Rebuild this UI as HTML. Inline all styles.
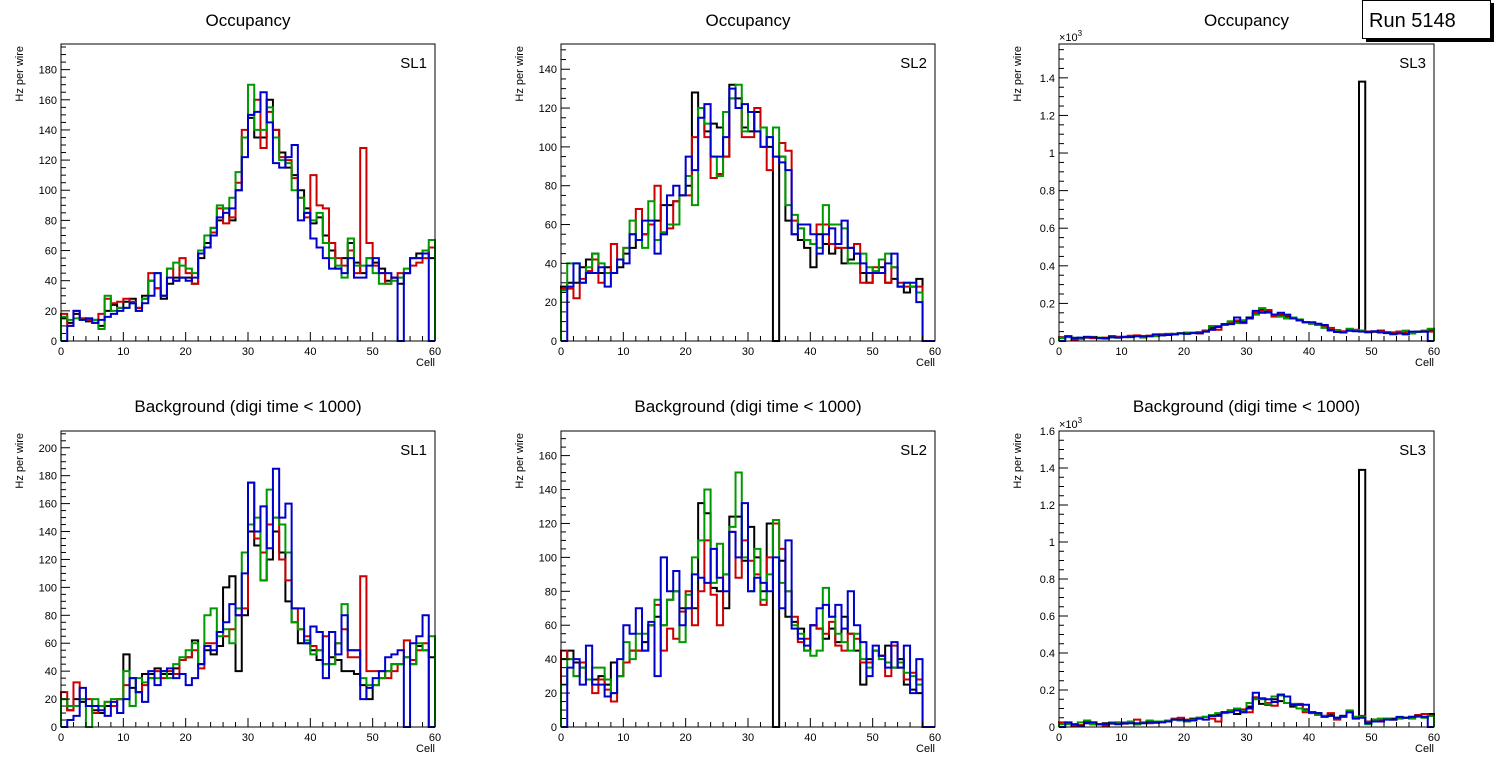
<!DOCTYPE html>
<html><head><meta charset="utf-8">
<style>
body{margin:0;background:#fff;width:1496px;height:772px;overflow:hidden;font-family:"Liberation Sans",sans-serif;}
svg text{font-family:"Liberation Sans",sans-serif;}
</style></head>
<body>
<svg id="c" width="1496" height="772" xmlns="http://www.w3.org/2000/svg"></svg>
<script>
// ---- data ----
const binCount = 60;
const colors = ["#000000","#cc0000","#009900","#0000cc"];
const panelTitles = ["Occupancy","Occupancy","Occupancy","Background (digi time < 1000)","Background (digi time < 1000)","Background (digi time < 1000)"];
const panelLabels = ["SL1","SL2","SL3","SL1","SL2","SL3"];
const yMaxes = [197,153,1580,212,174.5,1600];
const yTickSteps = [20,20,200,20,20,200];

const p1Black=[15,12,18,15,13,14,10,20,24,22,26,28,22,30,40,35,28,38,42,42,42,38,55,65,75,80,88,80,100,135,148,135,135,160,140,125,115,110,100,88,78,82,70,60,48,55,65,52,45,55,52,48,40,42,38,45,55,58,60,55];
const p1Red=[18,10,20,15,14,12,18,28,25,26,28,26,22,28,45,35,30,48,40,55,45,38,58,62,72,88,78,82,105,140,150,160,128,152,140,122,120,108,95,82,110,90,88,65,55,50,60,45,128,65,50,45,38,42,45,45,50,52,55,62];
const p1Green=[16,14,15,14,15,14,8,30,20,22,22,25,20,28,40,45,30,48,52,50,48,45,60,70,75,90,88,95,112,135,170,140,140,155,135,120,118,100,95,85,80,85,65,55,50,42,68,50,50,55,45,38,38,40,42,48,55,55,60,67];
const p1Blue=[0,10,20,14,15,12,14,16,18,20,22,25,20,25,30,45,30,42,40,42,40,42,58,62,70,82,85,88,100,122,150,152,165,145,118,115,122,130,80,85,68,62,55,48,48,45,55,42,42,50,55,45,45,42,0,45,55,55,58,0];

const p2Black=[28,30,30,38,42,45,35,38,35,38,45,48,52,55,60,62,70,70,72,75,80,128,120,108,112,110,95,132,125,110,108,118,110,100,0,95,62,55,52,48,38,55,50,45,48,40,42,45,35,30,35,38,30,32,28,25,28,32,0,0];
const p2Red=[27,27,22,32,36,42,30,35,50,42,48,55,68,55,60,80,55,58,72,75,75,105,120,105,84,86,95,125,120,105,105,120,100,88,95,102,98,62,58,52,50,60,60,50,48,48,48,50,30,30,38,42,30,38,30,28,28,28,0,0];
const p2Green=[26,40,40,30,38,45,40,35,35,42,48,62,52,48,72,52,56,60,60,75,85,70,120,112,95,85,118,125,132,108,118,108,110,105,110,95,70,65,58,52,50,48,70,60,60,58,40,40,45,38,36,42,45,38,28,30,28,25,0,0];
const p2Blue=[0,28,40,30,35,35,38,28,35,42,40,55,52,62,62,45,55,75,80,75,95,88,115,122,95,95,105,130,120,122,118,108,100,105,95,92,88,55,60,60,55,45,55,58,50,62,48,45,40,35,35,35,40,45,28,30,30,20,0,0];

const p3Black=[20,25,15,15,18,18,15,15,25,22,22,25,28,25,28,30,35,38,35,40,45,45,45,55,70,75,90,100,100,110,125,145,170,155,140,140,130,120,110,100,95,90,80,60,55,50,55,55,1380,50,50,55,45,45,50,45,45,50,50,60];
const p3Red=[18,22,5,12,20,15,15,18,20,22,20,28,30,22,28,32,32,35,38,42,40,45,40,55,60,60,85,100,110,95,120,150,160,165,130,145,125,125,110,100,92,85,75,70,58,52,55,60,55,50,48,52,48,42,50,48,45,50,55,50];
const p3Green=[15,20,18,15,22,22,18,12,20,18,22,20,25,18,25,25,30,35,38,42,45,45,48,50,80,80,90,105,95,110,120,140,175,150,140,130,120,125,115,100,92,85,70,55,52,48,65,58,55,45,50,48,45,35,40,55,40,48,52,65];
const p3Blue=[0,25,15,18,22,20,15,15,20,18,22,22,25,25,25,35,30,32,35,40,38,42,42,50,60,75,90,90,125,100,120,160,150,155,140,150,140,120,110,100,100,92,85,58,48,45,55,52,50,48,52,45,42,38,40,35,50,50,50,0];

const p4Black=[20,12,20,18,15,12,10,15,15,20,52,28,25,38,38,42,38,38,42,48,50,62,45,55,52,58,100,108,40,80,140,130,105,120,140,125,90,75,60,60,55,48,45,50,48,40,40,38,30,20,30,35,40,45,45,50,45,58,55,50];
const p4Red=[25,12,32,20,20,10,15,18,15,20,30,35,25,30,35,40,35,40,38,48,50,55,42,60,60,68,65,70,80,85,175,135,125,145,150,120,105,85,70,65,58,55,65,45,60,70,50,50,108,40,40,40,35,40,45,62,48,55,60,0];
const p4Green=[20,15,15,20,0,20,15,18,20,20,40,15,35,32,35,35,40,35,45,50,55,60,45,80,85,65,70,60,85,125,145,150,105,170,150,145,125,75,70,62,52,55,45,45,60,88,55,55,35,30,30,35,40,45,45,50,45,60,55,65];
const p4Blue=[0,5,8,28,15,15,12,8,18,10,20,35,25,18,40,30,40,42,35,38,30,35,45,58,55,68,75,88,80,110,175,140,158,128,185,150,160,85,85,60,72,68,35,68,52,80,55,55,20,28,35,40,50,52,55,0,60,65,80,0];

const p5Black=[40,45,38,35,28,28,30,25,38,30,38,45,45,50,60,65,60,75,80,70,70,70,132,126,82,80,70,124,124,98,118,100,80,120,0,98,65,62,58,45,60,58,52,58,50,65,55,45,25,40,45,42,48,35,40,25,22,20,0,0];
const p5Red=[45,40,30,38,28,20,28,22,15,30,38,45,45,45,60,72,45,58,52,68,80,60,80,110,78,60,90,115,88,110,98,90,72,100,120,105,80,65,50,52,60,58,55,62,48,45,55,52,38,38,45,42,30,48,35,28,32,28,0,0];
const p5Green=[25,40,30,35,28,35,35,28,20,30,50,40,55,55,60,75,60,75,80,50,78,100,110,140,85,108,90,118,150,100,80,105,75,90,122,85,80,60,55,45,42,45,82,65,55,50,45,55,40,35,45,40,38,35,38,32,30,25,0,0];
const p5Blue=[0,35,40,25,48,25,25,18,20,40,60,55,70,45,62,30,100,80,92,60,70,90,88,85,105,88,80,115,100,132,80,88,85,80,100,70,110,58,52,48,60,70,72,65,72,58,80,60,50,30,48,42,35,50,35,48,20,40,0,0];

const p6Black=[20,20,10,10,20,15,15,20,18,20,18,22,15,22,25,25,28,35,40,35,35,45,50,55,60,70,80,90,70,80,110,160,125,120,150,140,130,110,120,95,80,75,60,70,50,55,80,55,1390,25,40,40,45,45,50,50,55,60,55,70];
const p6Red=[25,20,5,10,25,25,15,5,20,25,20,22,40,25,20,22,30,30,45,50,40,35,45,55,45,30,80,90,90,95,80,160,155,130,115,175,130,120,125,80,75,65,60,75,40,55,85,50,60,30,40,40,45,40,50,50,55,65,70,60];
const p6Green=[15,15,15,25,35,15,15,15,25,20,25,30,15,25,35,30,30,35,40,35,30,40,50,55,65,75,75,90,100,85,130,150,150,125,165,170,130,125,100,90,80,65,60,60,50,60,90,55,55,15,40,45,45,40,45,50,45,55,50,60];
const p6Blue=[0,25,15,5,25,25,15,15,20,15,20,20,20,20,25,25,25,30,40,40,35,35,45,40,60,60,80,80,90,80,100,185,155,150,135,175,165,120,120,120,80,75,55,60,50,60,80,45,50,20,30,30,40,40,55,50,55,60,55,0];

const seriesByPanel=[[p1Black,p1Red,p1Green,p1Blue],[p2Black,p2Red,p2Green,p2Blue],[p3Black,p3Red,p3Green,p3Blue],[p4Black,p4Red,p4Green,p4Blue],[p5Black,p5Red,p5Green,p5Blue],[p6Black,p6Red,p6Green,p6Blue]];
const seriesNames=["black","red","green","blue"];
const xTickLabels=["0","10","20","30","40","50","60"];

// ---- drawing ----
const NS="http://www.w3.org/2000/svg";
const svg=document.getElementById('c');
function mk(tag,attrs,parent){const e=document.createElementNS(NS,tag);for(const k in attrs)e.setAttribute(k,attrs[k]);(parent||svg).appendChild(e);return e;}
const frames=[[61,435,44,341],[561,935,44,341],[1059,1434,44,341],[61,435,431,727],[561,935,431,727],[1059,1434,431,727]];

function fmt(v,isK){if(isK){const s=(v/1000);return (Math.round(s*10)/10).toString();}return v.toString();}

for(let p=0;p<6;p++){
  const [x0,x1,y0,y1]=frames[p];
  const ymax=yMaxes[p];
  const sx=v=>x0+(x1-x0)*v/binCount;
  const sy=v=>y1-(y1-y0)*Math.min(v,ymax)/ymax;
  const isK=ymax>1000;
  const g=mk('g',{});
  
  
  const t=mk('text',{x:(x0+x1)/2,y:y0<100?26:412,'text-anchor':'middle','font-size':'17'},g);
  t.textContent=panelTitles[p];
  
  
  seriesByPanel[p].forEach((vals,si)=>{
    let d='M'+sx(0)+','+y1;
    for(let i=0;i<vals.length;i++){d+=' V'+sy(vals[i])+' H'+sx(i+1);}
    d+=' V'+y1;
    const path=mk('path',{d:d,fill:'none',stroke:colors[si],'stroke-width':'2'},g);
    
    
  });
  const fr=mk('rect',{x:x0,y:y0,width:x1-x0,height:y1-y0,fill:'none',stroke:'#000','stroke-width':'1'},g);
  
  
  for(let v=0;v<=60;v+=2){
    const major=v%10===0;
    mk('line',{x1:sx(v),x2:sx(v),y1:y1,y2:y1-(major?9:5),stroke:'#000','stroke-width':'1'},g);
  }
  xTickLabels.forEach(lab=>{
    const tx=mk('text',{x:sx(+lab),y:y1+14,'text-anchor':'middle','font-size':'11'},g);
    tx.textContent=lab;
    
    
  });
  const cl=mk('text',{x:x1,y:y1+25,'text-anchor':'end','font-size':'11'},g);
  cl.textContent='Cell';
  
  
  const step=yTickSteps[p];
  for(let v=0;v<=ymax;v+=step/4){
    const major=Math.abs(v/step-Math.round(v/step))<1e-6;
    mk('line',{x1:x0,x2:x0+(major?9:5),y1:sy(v),y2:sy(v),stroke:'#000','stroke-width':'1'},g);
    if(major){
      const ty=mk('text',{x:x0-4,y:sy(v)+4,'text-anchor':'end','font-size':'11'},g);
      ty.textContent=fmt(v,isK);
      
      
    }
  }
  const yt=mk('text',{x:0,y:0,'text-anchor':'end','font-size':'11',transform:'translate('+(x0-38)+','+(y0+2)+') rotate(-90)'},g);
  yt.textContent='Hz per wire';
  
  
  if(isK){
    const ex=mk('text',{x:x0,y:y0-3,'font-size':'11'},g);
    ex.innerHTML='×10<tspan dy="-5" font-size="8">3</tspan>';
    
    
  }
  const sl=mk('text',{x:x1-8,y:y0+24,'text-anchor':'end','font-size':'15'},g);
  sl.textContent=panelLabels[p];
  
  
}
const rb=mk('g',{});


mk('rect',{x:1366,y:3,width:128,height:39,fill:'#000'},rb);
mk('rect',{x:1362.5,y:0.5,width:128,height:38,fill:'#fff',stroke:'#000','stroke-width':'1'},rb);
const rt=mk('text',{x:1369,y:27,'font-size':'20'},rb);
rt.textContent='Run 5148';


</script>
</body></html>
